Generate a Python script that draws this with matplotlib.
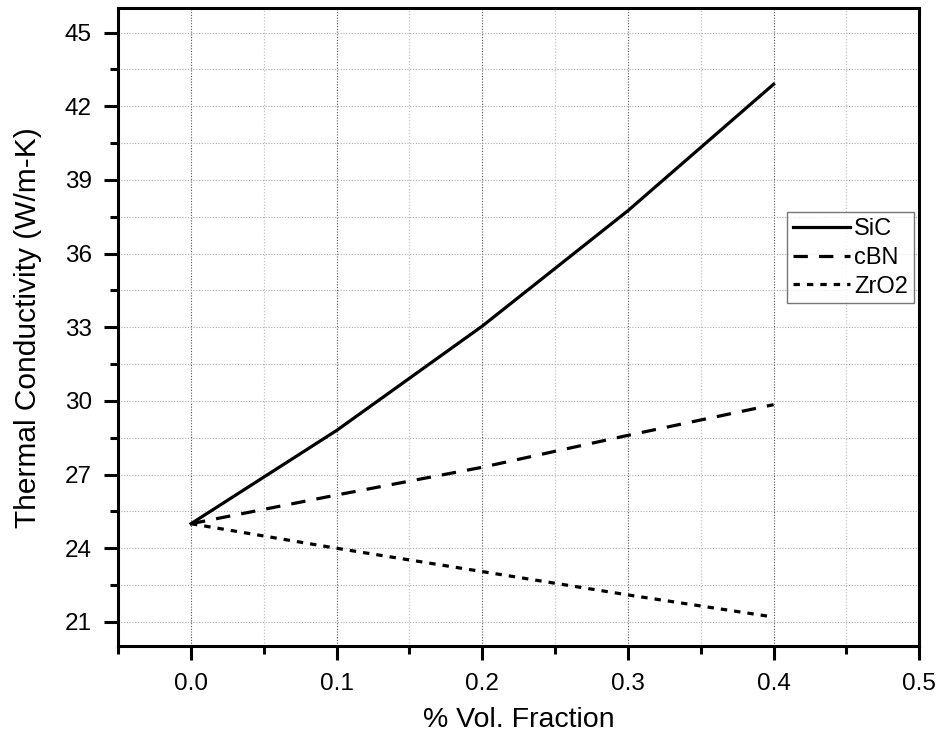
import matplotlib
matplotlib.use("Agg")
import matplotlib.pyplot as plt
from matplotlib.ticker import MultipleLocator, FormatStrFormatter

plt.rcParams['font.family'] = ['Liberation Sans', 'DejaVu Sans']

# volume fraction of reinforcement and resulting conductivity
vol_frac = [0.0, 0.1, 0.2, 0.3, 0.4]
k_sic = [25.0, 28.8, 33.05, 37.75, 42.9]
k_cbn = [25.0, 26.17, 27.3, 28.6, 29.85]
k_zro2 = [25.0, 24.0, 23.05, 22.1, 21.2]

fig = plt.figure(figsize=(9.38, 7.38), dpi=100)
ax = fig.add_axes([0.126, 0.124, 0.854, 0.865])

ax.plot(vol_frac, k_sic, color='black', lw=2.3, ls='-', label='SiC')
ax.plot(vol_frac, k_cbn, color='black', lw=2.3, ls=(0, (4.5, 3.5)), label='cBN')
ax.plot(vol_frac, k_zro2, color='black', lw=2.3, ls=(0, (2, 2.2)), label='ZrO2')

ax.set_xlim(-0.05, 0.5)
ax.set_ylim(20, 46)
ax.xaxis.set_major_locator(MultipleLocator(0.1))
ax.xaxis.set_minor_locator(MultipleLocator(0.05))
ax.yaxis.set_minor_locator(MultipleLocator(1.5))
ax.set_yticks([21, 24, 27, 30, 33, 36, 39, 42, 45])
ax.xaxis.set_major_formatter(FormatStrFormatter('%.1f'))

# grid
ax.grid(True, which='major', axis='x', color='#555555', ls=(0, (1, 1.5)), lw=0.8)
ax.grid(True, which='minor', axis='x', color='#c4c4c4', ls=(0, (1, 1.5)), lw=0.9)
ax.grid(True, which='both', axis='y', color='#aaaaaa', ls=(0, (1, 1.5)), lw=0.8)
ax.set_axisbelow(True)

for sp in ax.spines.values():
    sp.set_linewidth(2.2)

ax.tick_params(which='major', direction='out', length=10, width=2.2, labelsize=17.5, pad=9)
ax.tick_params(which='minor', direction='out', length=6, width=2.2)
ax.tick_params(top=False, right=False)

ax.set_xlabel('% Vol. Fraction', fontsize=20.5, labelpad=9)
ax.set_ylabel('Thermal Conductivity (W/m-K)', fontsize=21.5, labelpad=16)

leg = ax.legend(loc='upper left', bbox_to_anchor=(0.835, 0.68), fontsize=17,
                frameon=True, fancybox=False, edgecolor='#555555',
                handlelength=2.4, handletextpad=0.2, borderpad=0.25,
                labelspacing=0.28, borderaxespad=0)
leg.get_frame().set_linewidth(1.0)

fig.savefig('out.png', dpi=100)
